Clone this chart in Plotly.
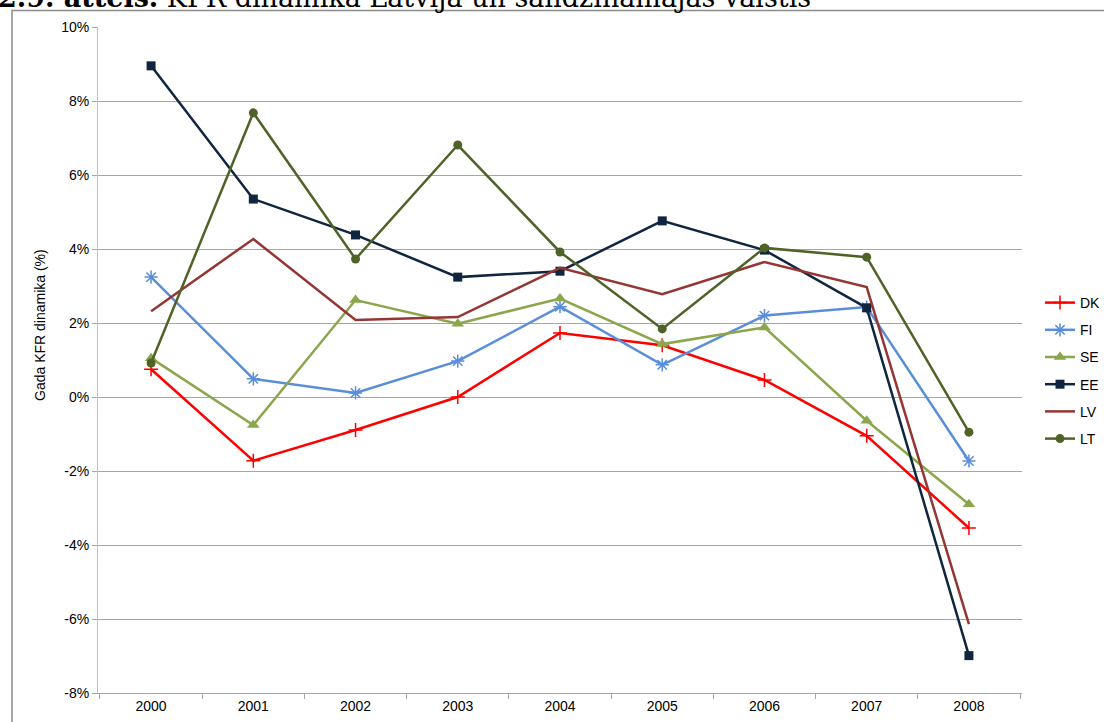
import plotly.graph_objects as go

years = ["2000", "2001", "2002", "2003", "2004", "2005", "2006", "2007", "2008"]
dk = [0.75, -1.72, -0.89, 0.0, 1.73, 1.40, 0.46, -1.05, -3.54]
fi = [3.24, 0.49, 0.11, 0.97, 2.44, 0.87, 2.20, 2.43, -1.73]
se = [1.05, -0.76, 2.62, 1.98, 2.66, 1.43, 1.88, -0.64, -2.90]
ee = [8.95, 5.35, 4.38, 3.24, 3.40, 4.76, 3.97, 2.41, -6.99]
lv = [2.32, 4.27, 2.08, 2.16, 3.49, 2.78, 3.65, 2.97, -6.14]
lt = [0.92, 7.68, 3.73, 6.81, 3.92, 1.84, 4.03, 3.78, -0.95]

y_tick_vals = [-8, -6, -4, -2, 0, 2, 4, 6, 8, 10]
y_tick_text = ["-8%", "-6%", "-4%", "-2%", "0%", "2%", "4%", "6%", "8%", "10%"]

series = [
    ("DK", dk, "#ff0000", "cross-thin", 10, 1.5),
    ("FI", fi, "#5a8ed8", "asterisk", 11, 1.5),
    ("SE", se, "#8ba64c", "triangle-up", 11, 0),
    ("EE", ee, "#10253f", "square", 9, 0),
    ("LV", lv, "#943634", None, 0, 0),
    ("LT", lt, "#4f6228", "circle", 9, 0),
]

fig = go.Figure()
for name, vals, col, sym, size, mlw in series:
    kw = dict(x=years, y=vals, name=name, legendgroup=name,
              line=dict(color=col, width=2.5))
    if sym is None:
        kw["mode"] = "lines"
    else:
        kw["mode"] = "lines+markers"
        kw["marker"] = dict(symbol=sym, size=size, color=col,
                            line=dict(color=col, width=mlw))
    fig.add_trace(go.Scatter(**kw))

W, H = 1104, 722
L, R, T, B = 98, 1022, 27, 693
pw, ph = R - L, B - T

fig.update_layout(
    width=W, height=H,
    margin=dict(l=L, r=W - R, t=T, b=H - B, autoexpand=False),
    paper_bgcolor="white", plot_bgcolor="white",
    font=dict(family="Liberation Sans, Arial, sans-serif", size=14, color="#000000"),
    showlegend=True,
    legend=dict(x=(1040 - L) / pw, xanchor="left", y=(B - 371) / ph, yanchor="middle",
                font=dict(size=14), tracegroupgap=6, bgcolor="rgba(0,0,0,0)"),
    xaxis=dict(type="category", automargin=False, showgrid=False, showline=True,
               linecolor="#a6a6a6", linewidth=1, ticks="outside", tickson="boundaries",
               ticklen=5, tickcolor="#a6a6a6", tickfont=dict(size=14)),
    yaxis=dict(range=[-8, 10], tickvals=y_tick_vals, ticktext=y_tick_text,
               automargin=False, showgrid=True, gridcolor="#a6a6a6", gridwidth=1,
               zeroline=False, showline=True, linecolor="#c0c0c0", linewidth=1,
               ticks="outside", ticklen=5, tickcolor="#a6a6a6", tickfont=dict(size=14)),
)

# y-axis title (placed where the original puts it)
fig.add_annotation(xref="paper", yref="paper", x=(40 - L) / pw, xanchor="center",
                   y=(B - 325) / ph, yanchor="middle", showarrow=False, textangle=-90,
                   text="Gada KFR dinamika (%)", font=dict(size=14, color="#000000"))

# outer frame of the chart object
fig.add_shape(type="rect", xref="paper", yref="paper",
              x0=(12 - L) / pw, x1=(1110 - L) / pw,
              y0=(B - 730) / ph, y1=(B - 10.5) / ph,
              line=dict(color="#8c8c8c", width=1.5), fillcolor="rgba(0,0,0,0)", layer="below")

# caption above the chart (partly cut at the top of the page)
fig.add_annotation(xref="paper", yref="paper", x=(-4 - L) / pw, xanchor="left",
                   y=(B - 15) / ph, yanchor="bottom", showarrow=False,
                   text="<b>2.9. attēls.</b> KFR dinamika Latvijā un salīdzināmajās valstīs",
                   font=dict(family="DejaVu Serif, serif", size=27, color="#000000"))

fig.write_html("out.html", config={"displayModeBar": False},
               post_script="document.body.style.margin='0';")
